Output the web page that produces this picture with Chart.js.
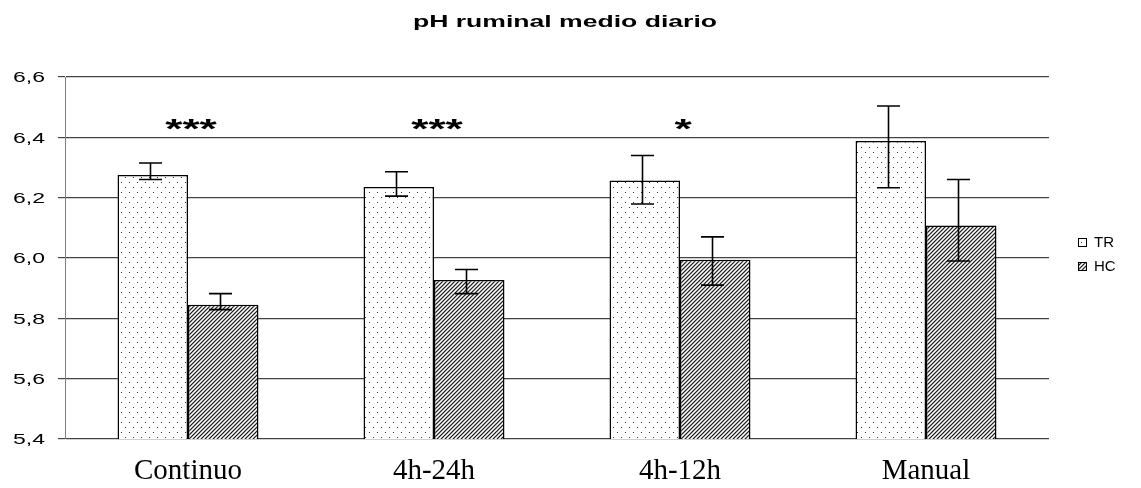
<!DOCTYPE html>
<html><head><meta charset="utf-8">
<script src="https://cdn.jsdelivr.net/npm/chart.js@4/dist/chart.umd.min.js"></script>
<style>html,body{margin:0;padding:0;background:#fff;overflow:hidden}canvas{display:block}</style>
</head><body>
<canvas id="c" width="1141" height="488"></canvas>
<script>
const titleText = 'pH ruminal medio diario';
const categories = ['Continuo', '4h-24h', '4h-12h', 'Manual'];
const seriesNames = ['TR', 'HC'];
const trValues = [6.275, 6.235, 6.257, 6.388];
const hcValues = [5.845, 5.927, 5.994, 6.108];
const trHigh = [6.315, 6.286, 6.340, 6.504];
const trLow  = [6.260, 6.205, 6.179, 6.233];
const hcHigh = [5.882, 5.962, 6.070, 6.260];
const hcLow  = [5.829, 5.882, 5.910, 5.990];
const significance = ['***', '***', '*', ''];
const sigLevel = 6.44;
const yTickLabels = ['5,4', '5,6', '5,8', '6,0', '6,2', '6,4', '6,6'];

function makeDots() {
  const c = document.createElement('canvas'); c.width = 8; c.height = 10;
  const g = c.getContext('2d');
  g.fillStyle = '#fff'; g.fillRect(0, 0, 8, 10);
  g.fillStyle = '#333'; g.fillRect(1, 2, 1, 1); g.fillRect(5, 7, 1, 1);
  return g.createPattern(c, 'repeat');
}
function makeHatch() {
  const c = document.createElement('canvas'); c.width = 4; c.height = 4;
  const g = c.getContext('2d');
  const cols = ['#222', '#999', '#fff', '#bbb'];
  for (let x = 0; x < 4; x++) for (let y = 0; y < 4; y++) {
    g.fillStyle = cols[(x + y + 1) % 4]; g.fillRect(x, y, 1, 1);
  }
  return g.createPattern(c, 'repeat');
}
const dotPattern = makeDots();
const hatchPattern = makeHatch();

function sText(ctx, text, x, y, font, align, baseline, sx) {
  ctx.save(); ctx.translate(x, y); ctx.scale(sx, 1);
  ctx.font = font; ctx.textAlign = align; ctx.textBaseline = baseline;
  ctx.fillStyle = '#000'; ctx.fillText(text, 0, 0); ctx.restore();
}

const decor = {
  id: 'decor',
  afterDatasetsDraw(chart) {
    const ctx = chart.ctx, ys = chart.scales.y;
    [[trHigh, trLow], [hcHigh, hcLow]].forEach((pair, di) => {
      chart.getDatasetMeta(di).data.forEach((bar, i) => {
        const x = Math.round(bar.x) - 2.5;
        const yt = ys.getPixelForValue(pair[0][i]);
        const yb = ys.getPixelForValue(pair[1][i]);
        ctx.save(); ctx.strokeStyle = '#000'; ctx.lineWidth = 1.6;
        ctx.beginPath();
        ctx.moveTo(x, yt); ctx.lineTo(x, yb);
        ctx.moveTo(x - 11.5, yt); ctx.lineTo(x + 11.5, yt);
        ctx.moveTo(x - 11.5, yb); ctx.lineTo(x + 11.5, yb);
        ctx.stroke(); ctx.restore();
      });
    });
  },
  afterDraw(chart) {
    const ctx = chart.ctx, xs = chart.scales.x, ys = chart.scales.y;
    sText(ctx, titleText, 565, 27, 'bold 16px "Liberation Sans"', 'center', 'alphabetic', 1.66);
    ys.ticks.forEach((t, i) => {
      sText(ctx, yTickLabels[i], 45, ys.getPixelForValue(t.value) + 1.5, '14px "Liberation Sans"', 'right', 'middle', 1.64);
    });
    significance.forEach((s, i) => {
      if (!s) return;
      sText(ctx, s, xs.getPixelForValue(i) + 3, ys.getPixelForValue(sigLevel) + 13, 'bold 27px "Liberation Sans"', 'center', 'alphabetic', 1.64);
    });
    const pats = [dotPattern, hatchPattern];
    const ly = [242, 266];
    seriesNames.forEach((n, i) => {
      ctx.save();
      ctx.fillStyle = pats[i]; ctx.fillRect(1078, ly[i] - 4, 9, 9);
      ctx.strokeStyle = '#000'; ctx.lineWidth = 1; ctx.strokeRect(1078.5, ly[i] - 3.5, 8, 8);
      ctx.fillStyle = '#000'; ctx.font = '15px "Liberation Sans"'; ctx.textAlign = 'left'; ctx.textBaseline = 'middle';
      ctx.fillText(n, 1094, ly[i] + 1);
      ctx.restore();
    });
  }
};

Chart.defaults.font.family = '"Liberation Sans", Arial, sans-serif';
new Chart(document.getElementById('c'), {
  type: 'bar',
  data: {
    labels: categories,
    datasets: [
      { label: seriesNames[0], data: trValues, backgroundColor: dotPattern, borderColor: '#000', borderWidth: 1.5, borderSkipped: false },
      { label: seriesNames[1], data: hcValues, backgroundColor: hatchPattern, borderColor: '#000', borderWidth: 1.5, borderSkipped: false }
    ]
  },
  options: {
    responsive: false,
    animation: false,
    events: [],
    categoryPercentage: 0.573,
    barPercentage: 1.0,
    layout: { padding: { top: 77, left: 58, right: 92, bottom: 0 } },
    plugins: { legend: { display: false }, title: { display: false }, tooltip: { enabled: false } },
    scales: {
      x: {
        grid: { display: false, drawTicks: false },
        border: { display: false },
        ticks: { color: '#000', padding: 15, font: { family: '"Liberation Serif", "Times New Roman", serif', size: 29 } },
        afterFit(s) { s.height = 49; }
      },
      y: {
        min: 5.4, max: 6.6,
        ticks: { stepSize: 0.2, display: false },
        grid: { color: '#444', lineWidth: 1.2, tickLength: 7, drawTicks: true },
        border: { color: '#808080', width: 1 },
        afterFit(s) { s.width = 7; }
      }
    }
  },
  plugins: [decor]
});
</script></body></html>
